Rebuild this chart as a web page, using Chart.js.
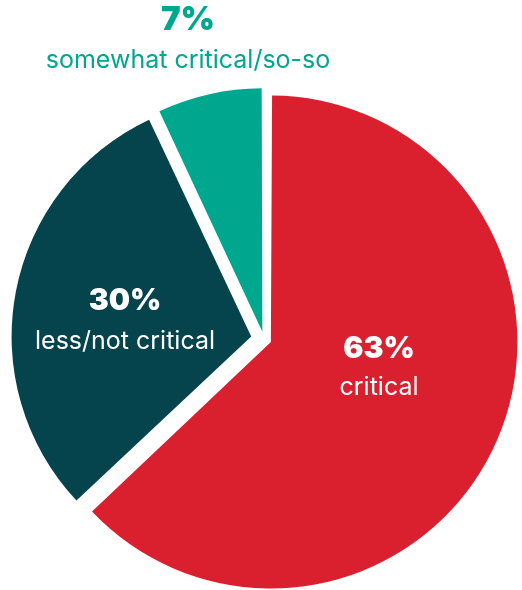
<!DOCTYPE html>
<html>
<head>
<meta charset="utf-8">
<script src="https://cdn.jsdelivr.net/npm/chart.js@4"></script>
<style>
  html, body { margin: 0; padding: 0; background: #fff; overflow: hidden; }
  #wrap { width: 522px; height: 590px; position: relative; }
</style>
</head>
<body>
<div id="wrap"><canvas id="pie"></canvas></div>
<script>
const categories = ['critical', 'less/not critical', 'somewhat critical/so-so'];
const shares = [63, 30, 7];
const colors = ['#DA202F', '#05434D', '#00A78F'];
const textColors = ['#ffffff', '#ffffff', '#00A78F'];
// how far each slice is pulled out of the pie
const pullOut = [30, 52, 30];

const font = '"Inter", "Open Sans", sans-serif';

// percentage + category text, placed per slice
const sliceLabels = {
  id: 'sliceLabels',
  afterDatasetsDraw(chart) {
    const ctx = chart.ctx;
    const arcs = chart.getDatasetMeta(0).data;
    const spots = [
      { x: 379, y: 349, gap: 38, big: 30 },
      { x: 125, y: 301, gap: 40, big: 30 },
      { x: 188, y: 20, gap: 40, big: 33 }
    ];
    ctx.save();
    ctx.textAlign = 'center';
    ctx.textBaseline = 'middle';
    arcs.forEach((arc, i) => {
      const s = spots[i];
      ctx.fillStyle = textColors[i];
      ctx.font = '900 ' + s.big + 'px ' + font;
      ctx.fillText(shares[i] + '%', s.x, s.y);
      ctx.font = '400 25px ' + font;
      ctx.fillText(categories[i], s.x, s.y + s.gap);
    });
    ctx.restore();
  }
};

new Chart(document.getElementById('pie'), {
  type: 'pie',
  data: {
    labels: categories,
    datasets: [{
      data: shares,
      backgroundColor: colors,
      borderWidth: 0,
      offset: pullOut,
      radius: 239,
      clip: false
    }]
  },
  options: {
    responsive: true,
    maintainAspectRatio: false,
    animation: false,
    layout: { padding: { left: 10, right: 4, top: 88, bottom: 0 } },
    plugins: {
      legend: { display: false },
      tooltip: { enabled: false }
    }
  },
  plugins: [sliceLabels]
});
</script>
</body>
</html>
